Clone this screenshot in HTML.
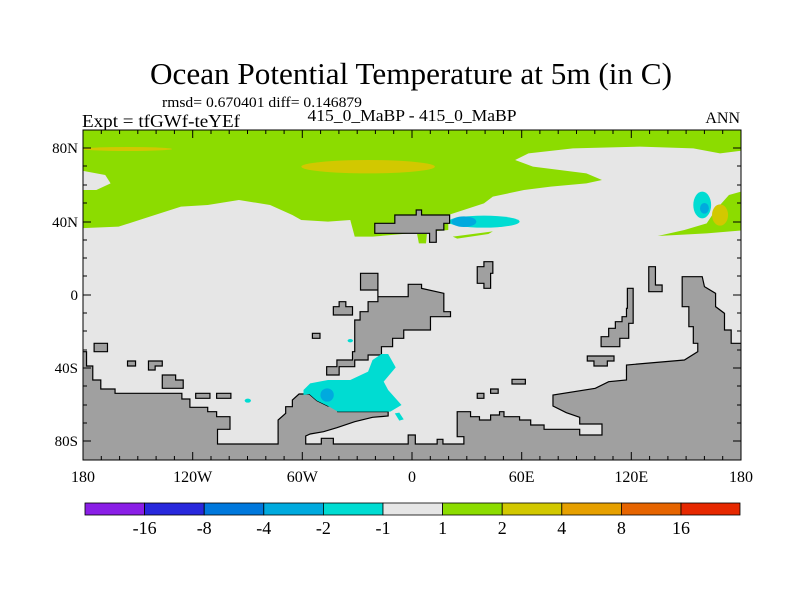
<!DOCTYPE html>
<html><head><meta charset="utf-8"><style>
body{margin:0;background:#fff;}
svg{display:block;font-family:"Liberation Serif",serif;}
</style></head><body>
<svg width="800" height="600" viewBox="0 0 800 600" xmlns="http://www.w3.org/2000/svg">
<rect width="800" height="600" fill="#fff"/>
<text x="411" y="84" font-size="31" text-anchor="middle" textLength="522" lengthAdjust="spacingAndGlyphs">Ocean Potential Temperature at 5m (in C)</text>
<text x="162" y="107" font-size="15" textLength="200" lengthAdjust="spacingAndGlyphs">rmsd= 0.670401 diff= 0.146879</text>
<text x="82" y="127" font-size="18" textLength="158" lengthAdjust="spacingAndGlyphs">Expt = tfGWf-teYEf</text>
<text x="412" y="121" font-size="17" text-anchor="middle" textLength="209" lengthAdjust="spacingAndGlyphs">415_0_MaBP - 415_0_MaBP</text>
<text x="740" y="123" font-size="16" text-anchor="end">ANN</text>
<defs><clipPath id="c"><rect x="83" y="130" width="658" height="330"/></clipPath></defs>
<g clip-path="url(#c)">
<rect x="83" y="130" width="658" height="330" fill="#e6e6e6"/>
<g transform="translate(60.7,90) scale(0.4455,0.33333)">
<polygon fill="#8cdc00" points="40,100 1540,100 1540,180 1480,190 1420,175 1300,170 1150,175 1050,190 1020,210 1060,230 1180,250 1215,270 1180,280 1100,290 1040,300 970,320 950,340 870,375 870,420 700,440 660,440 650,390 600,395 540,390 520,375 470,345 400,330 330,345 270,350 200,380 130,410 40,415"/>
<polygon fill="#e6e6e6" points="40,240 100,255 112,280 80,300 40,300"/>
<ellipse cx="150" cy="177" rx="100" ry="6" fill="#d2c800"/>
<ellipse cx="690" cy="230" rx="150" ry="20" fill="#d2c800"/>
<polygon fill="#8cdc00" points="800,432 822,432 820,460 804,460"/>
<polygon fill="#8cdc00" points="880,440 970,424 960,432 890,446"/>
<polygon fill="#8cdc00" points="1340,438 1400,420 1450,400 1470,360 1500,315 1540,300 1540,420 1450,430"/>
<ellipse cx="1480" cy="375" rx="18" ry="32" fill="#d2c800"/>
<ellipse cx="950" cy="395" rx="80" ry="18" fill="#00dcd2"/>
<polygon fill="#00dcd2" points="960,380 1030,390 960,410"/>
<ellipse cx="905" cy="395" rx="28" ry="16" fill="#00aade"/>
<ellipse cx="1440" cy="345" rx="20" ry="40" fill="#00dcd2"/>
<ellipse cx="1445" cy="355" rx="10" ry="16" fill="#00aade"/>
<g fill="#a0a0a0" stroke="#000" stroke-width="1.2">
<polygon vector-effect="non-scaling-stroke" points="705,400 750,400 750,375 798,375 798,360 810,360 810,375 873,375 873,400 860,400 860,420 843,420 843,457 828,457 828,430 705,430"/>
</g>
</g>
<g transform="translate(60.7,280) scale(0.4455,0.33333)" fill="#a0a0a0" stroke="#000" stroke-width="1.2">
<polygon vector-effect="non-scaling-stroke" points="40,215 58,215 58,258 72,258 72,300 90,300 90,327 122,327 122,340 272,340 272,357 290,357 290,382 330,382 330,395 350,395 350,410 380,410 380,448 352,448 352,492 488,492 488,420 505,400 505,380 520,380 520,360 535,342 558,342 575,362 600,378 622,378 622,395 735,395 735,408 700,412 660,425 620,443 590,455 560,462 550,468 550,492 585,492 585,475 612,475 612,492 780,492 780,465 796,465 796,492 845,492 845,478 858,478 858,492 905,492 905,470 890,470 890,395 920,395 920,410 940,410 940,420 965,420 965,405 985,405 985,395 995,395 995,410 1030,410 1030,420 1055,420 1055,435 1085,435 1085,448 1165,448 1165,465 1215,465 1215,432 1165,432 1165,412 1135,398 1105,378 1105,345 1200,325 1230,305 1270,300 1270,255 1400,240 1430,215 1430,190 1420,190 1420,140 1410,140 1410,80 1395,80 1395,-10 1440,-10 1445,20 1470,40 1470,80 1490,100 1490,150 1505,150 1505,190 1540,190 1540,560 40,560"/>
<polygon vector-effect="non-scaling-stroke" points="673,-20 712,-20 712,50 780,50 780,13 810,13 810,25 860,40 860,95 875,95 875,110 830,110 830,150 770,150 770,175 745,175 745,200 720,200 720,225 690,225 690,240 660,240 660,260 625,260 625,285 597,285 597,260 620,260 620,240 655,240 655,215 660,215 660,120 672,120 672,95 690,95 690,65 712,65 712,30 690,30 673,30"/>
<polygon vector-effect="non-scaling-stroke" points="625,65 640,65 640,80 655,80 655,105 612,105 612,80 625,80"/>
<rect vector-effect="non-scaling-stroke" x="565" y="160" width="17" height="15"/>
<rect vector-effect="non-scaling-stroke" x="75" y="190" width="30" height="25"/>
<rect vector-effect="non-scaling-stroke" x="150" y="243" width="18" height="15"/>
<polygon vector-effect="non-scaling-stroke" points="197,243 228,243 228,258 212,258 212,270 197,270"/>
<polygon vector-effect="non-scaling-stroke" points="228,285 258,285 258,300 275,300 275,325 228,325"/>
<rect vector-effect="non-scaling-stroke" x="303" y="340" width="32" height="15"/>
<rect vector-effect="non-scaling-stroke" x="350" y="340" width="32" height="15"/>
<rect vector-effect="non-scaling-stroke" x="935" y="340" width="15" height="15"/>
<rect vector-effect="non-scaling-stroke" x="965" y="327" width="17" height="13"/>
<rect vector-effect="non-scaling-stroke" x="1013" y="298" width="30" height="14"/>
<polygon vector-effect="non-scaling-stroke" points="1182,228 1242,228 1242,243 1227,243 1227,258 1197,258 1197,243 1182,243"/>
<polygon vector-effect="non-scaling-stroke" points="1272,25 1285,25 1285,130 1275,130 1275,175 1255,175 1255,200 1213,200 1213,170 1230,170 1230,145 1245,145 1245,125 1260,125 1260,110 1270,110 1270,85 1272,85"/>
<polygon vector-effect="non-scaling-stroke" points="935,-40 950,-40 950,-55 970,-55 970,-20 965,-20 965,25 950,25 950,10 935,10"/>
<polygon vector-effect="non-scaling-stroke" points="1320,-40 1335,-40 1335,15 1350,15 1350,35 1320,35"/>
</g>
<g transform="translate(60.7,280) scale(0.4455,0.33333)">
<polygon fill="#00dcd2" points="545,330 560,310 600,300 650,300 690,275 700,240 720,222 735,222 752,262 725,305 735,330 765,375 740,395 622,395 600,378 575,362 558,342 545,345"/>
<polygon fill="#00dcd2" points="750,400 760,398 770,418 760,422"/>
<ellipse cx="598" cy="345" rx="15" ry="20" fill="#00aade"/>
<ellipse cx="650" cy="182" rx="6" ry="5" fill="#00dcd2"/>
<ellipse cx="420" cy="362" rx="7" ry="6" fill="#00dcd2"/>
</g>
</g>
<rect x="83" y="130" width="658" height="330" fill="none" stroke="#000" stroke-width="1"/>
<g stroke="#000" stroke-width="1">
<path d="M83,148h8M83,222h8M83,295h8M83,368h8M83,441h8M741,148h-8M741,222h-8M741,295h-8M741,368h-8M741,441h-8"/>
<path d="M83,166h4M83,185h4M83,203h4M83,240h4M83,258h4M83,276h4M83,313h4M83,331h4M83,350h4M83,386h4M83,405h4M83,423h4M741,166h-4M741,185h-4M741,203h-4M741,240h-4M741,258h-4M741,276h-4M741,313h-4M741,331h-4M741,350h-4M741,386h-4M741,405h-4M741,423h-4"/>
<path d="M192.7,460v-8M302.3,460v-8M412,460v-8M521.7,460v-8M631.3,460v-8M192.7,130v8M302.3,130v8M412,130v8M521.7,130v8M631.3,130v8"/>
<path d="M101.3,460v-4M119.6,460v-4M137.8,460v-4M156.1,460v-4M174.4,460v-4M211,460v-4M229.2,460v-4M247.5,460v-4M265.8,460v-4M284.1,460v-4M320.6,460v-4M338.9,460v-4M357.2,460v-4M375.4,460v-4M393.7,460v-4M430.3,460v-4M448.6,460v-4M466.8,460v-4M485.1,460v-4M503.4,460v-4M539.9,460v-4M558.2,460v-4M576.5,460v-4M594.8,460v-4M613,460v-4M649.6,460v-4M667.9,460v-4M686.1,460v-4M704.4,460v-4M722.7,460v-4"/>
<path d="M101.3,130v4M119.6,130v4M137.8,130v4M156.1,130v4M174.4,130v4M211,130v4M229.2,130v4M247.5,130v4M265.8,130v4M284.1,130v4M320.6,130v4M338.9,130v4M357.2,130v4M375.4,130v4M393.7,130v4M430.3,130v4M448.6,130v4M466.8,130v4M485.1,130v4M503.4,130v4M539.9,130v4M558.2,130v4M576.5,130v4M594.8,130v4M613,130v4M649.6,130v4M667.9,130v4M686.1,130v4M704.4,130v4M722.7,130v4"/>
</g>
<g font-size="15" text-anchor="end">
<text x="78" y="153">80N</text><text x="78" y="227">40N</text><text x="78" y="300">0</text><text x="78" y="373">40S</text><text x="78" y="446">80S</text>
</g>
<g font-size="16" text-anchor="middle">
<text x="83" y="482">180</text><text x="192.7" y="482">120W</text><text x="302.3" y="482">60W</text><text x="412" y="482">0</text><text x="521.7" y="482">60E</text><text x="631.3" y="482">120E</text><text x="741" y="482">180</text>
</g>
<g stroke="#000" stroke-width="0.8">
<rect x="85" y="503" width="59.6" height="12" fill="#8a1ee6"/>
<rect x="144.6" y="503" width="59.6" height="12" fill="#2828dc"/>
<rect x="204.2" y="503" width="59.6" height="12" fill="#0078dc"/>
<rect x="263.8" y="503" width="59.6" height="12" fill="#00aade"/>
<rect x="323.4" y="503" width="59.6" height="12" fill="#00dcd2"/>
<rect x="383" y="503" width="59.6" height="12" fill="#e6e6e6"/>
<rect x="442.6" y="503" width="59.6" height="12" fill="#8cdc00"/>
<rect x="502.2" y="503" width="59.6" height="12" fill="#d2c800"/>
<rect x="561.8" y="503" width="59.6" height="12" fill="#e6a000"/>
<rect x="621.4" y="503" width="59.6" height="12" fill="#e66400"/>
<rect x="681" y="503" width="59" height="12" fill="#e62800"/>
</g>
<g font-size="18" text-anchor="middle">
<text x="144.6" y="534">-16</text><text x="204.2" y="534">-8</text><text x="263.8" y="534">-4</text><text x="323.4" y="534">-2</text><text x="383" y="534">-1</text><text x="442.6" y="534">1</text><text x="502.2" y="534">2</text><text x="561.8" y="534">4</text><text x="621.4" y="534">8</text><text x="681" y="534">16</text>
</g>
</svg>
</body></html>
